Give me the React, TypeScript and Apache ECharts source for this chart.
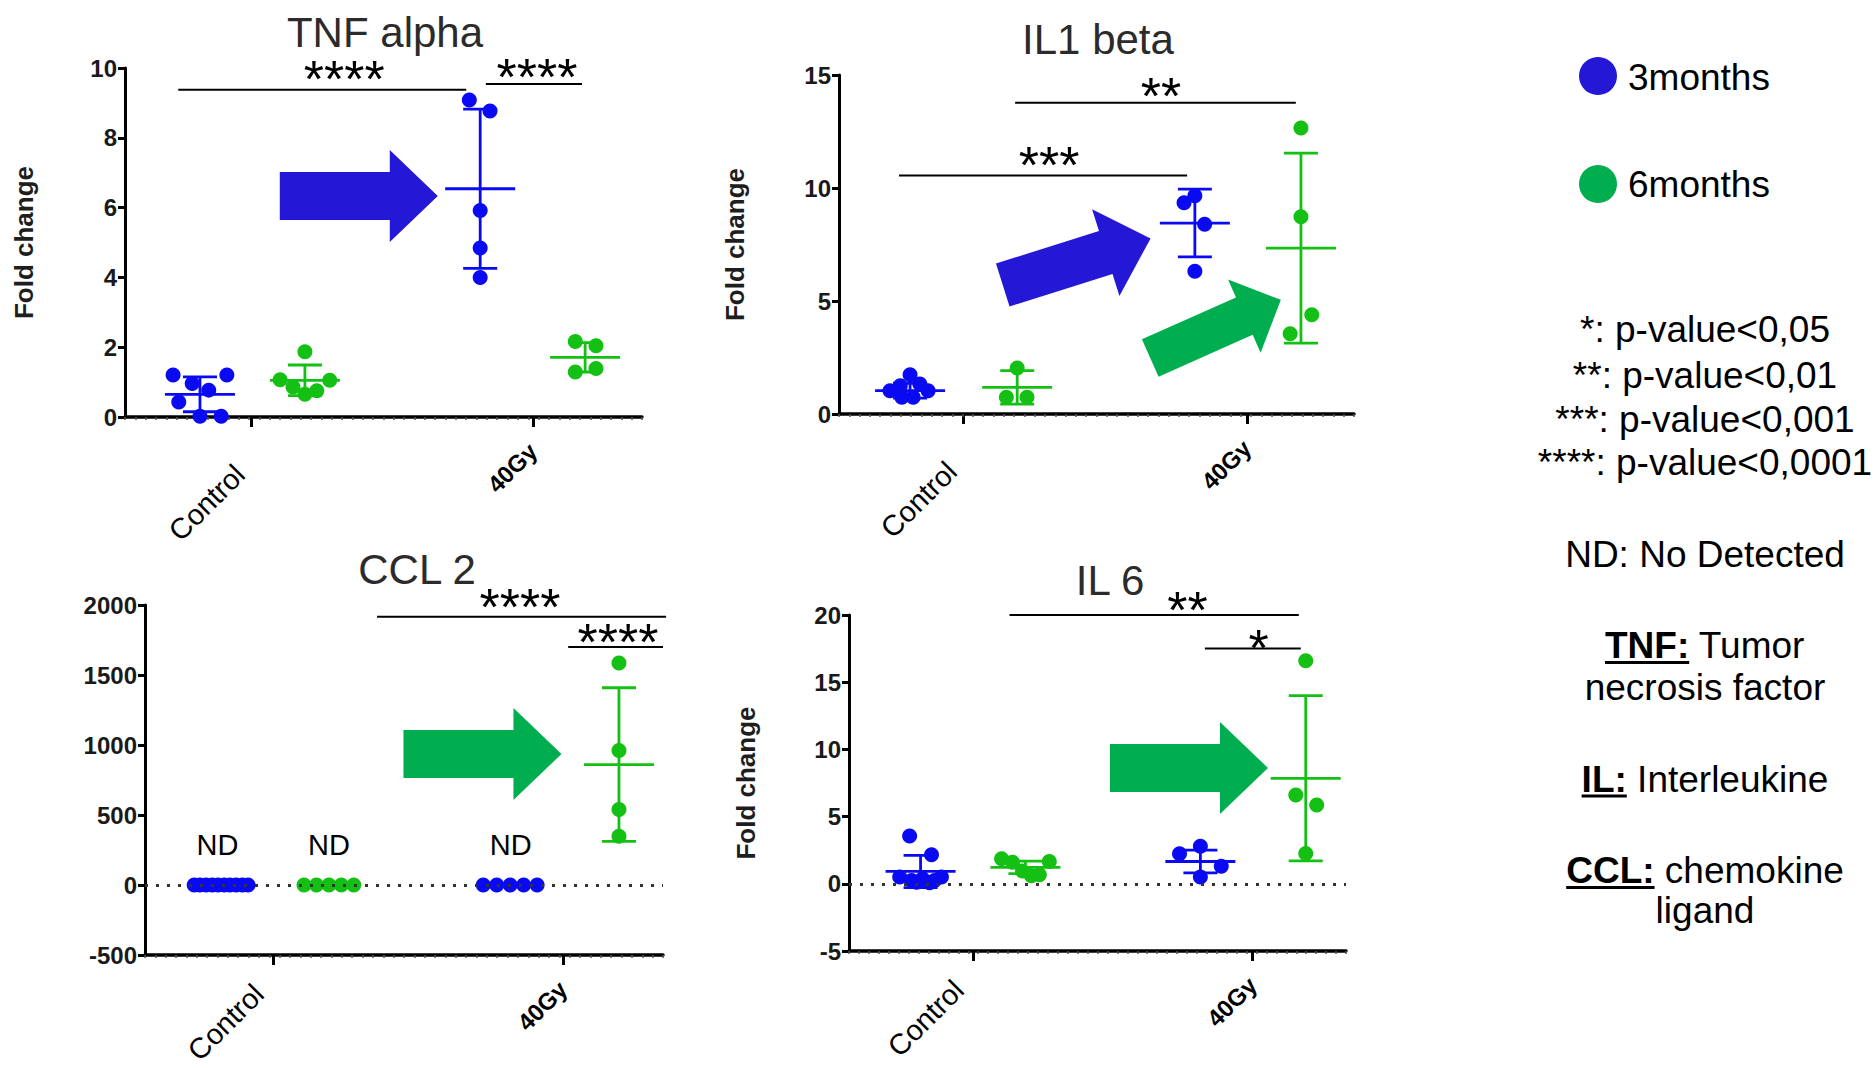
import React, { useEffect, useRef } from 'react';
import * as echarts from 'echarts';

const FONT = '"Liberation Sans", Arial, Helvetica, sans-serif';
const DOT_BLUE = '#0A0AF2';
const DOT_GREEN = '#14C014';
const ARROW_BLUE = '#2517D6';
const ARROW_GREEN = '#00AE50';

const xLabels = ['Control', '40Gy'];
const seriesNames = ['3months', '6months'];
const pNotes = ['*: p-value<0,05', '**: p-value<0,01', '***: p-value<0,001', '****: p-value<0,0001'];
const abbrevBold = ['', 'TNF:', '', 'IL:', 'CCL:', ''];
const abbrevText = ['ND: No Detected', ' Tumor', 'necrosis factor', ' Interleukine', ' chemokine', 'ligand'];

// group order: Control 3months, Control 6months, 40Gy 3months, 40Gy 6months
// ---------- TNF alpha
const tnfValues = [
  [1.2, 1.2, 0.96, 0.77, 0.43, 0.02, 0.02],
  [1.87, 1.07, 1.05, 0.86, 0.75, 0.65],
  [9.08, 8.77, 5.92, 4.84, 4.0],
  [2.16, 2.04, 1.29, 1.39],
];
const tnfJitter = [
  [-5.2, 5.2, -1.5, 1.7, -4.1, 0, 4.1],
  [0, -4.8, 4.8, -2.3, 2.3, 0],
  [-2.1, 1.9, 0, 0, 0],
  [-1.9, 2.1, -1.9, 2.1],
];
const tnfMean = [0.65, 1.05, 6.54, 1.71];
const tnfSD = [0.5, 0.44, 2.28, 0.42];
const tnfGroupX = [14.5, 34.8, 68.7, 89.0];
const tnfTickX = [24.4, 78.9];
const tnfSigLines = [[10.3, 66.0, 9.38], [69.8, 88.4, 9.54]];
const tnfSigText = [[42.4, 9.88], [79.7, 9.95]];
const tnfSigLabels = ['****', '****'];
const tnfArrows = [[60.5, 6.33, 0, 0]];

// ---------- IL1 beta
const il1Values = [
  [1.74, 1.25, 1.33, 1.03, 1.03, 0.74, 0.74],
  [2.04, 0.74, 0.74],
  [9.35, 9.66, 8.4, 6.32],
  [12.66, 8.73, 4.39, 3.55],
];
const il1Jitter = [
  [0, -1.9, 1.9, -3.9, 3.5, -1.6, 0.6],
  [0, -2.1, 1.9],
  [-2.1, 0, 1.9, 0],
  [0, 0, 2.1, -2.1],
];
const il1Mean = [1.03, 1.18, 8.45, 7.34];
const il1SD = [0.33, 0.74, 1.5, 4.2];
const il1GroupX = [13.8, 34.6, 69.1, 89.7];
const il1TickX = [24.1, 79.2];
const il1SigLines = [[11.65, 67.6, 10.55], [34.2, 88.7, 13.77]];
const il1SigText = [[40.8, 11.33], [62.5, 14.37]];
const il1SigLabels = ['***', '**'];
const il1Arrows = [[60.5, 7.77, -17.5, 0], [85.8, 5.05, -24, 1]];

// ---------- CCL 2
const ccl2Values = [
  [0, 0, 0, 0, 0, 0, 0, 0, 0, 0],
  [0, 0, 0, 0, 0],
  [0, 0, 0, 0, 0],
  [1585, 960, 540, 348],
];
const ccl2Jitter = [
  [-5.2, -4.1, -2.9, -1.7, -0.6, 0.6, 1.7, 2.9, 4.1, 5.2],
  [-4.8, -2.4, 0, 2.4, 4.8],
  [-5.2, -2.6, 0, 2.6, 5.2],
  [0, 0, 0, 0],
];
const ccl2Mean = [null, null, null, 860];
const ccl2SD = [null, null, null, 549];
const ccl2GroupX = [14.7, 35.5, 70.5, 91.5];
const ccl2TickX = [24.7, 80.7];
const ccl2SigLines = [[44.8, 100.6, 1916], [81.7, 100, 1700]];
const ccl2SigText = [[72.4, 2037], [91.3, 1784]];
const ccl2SigLabels = ['****', '****'];
const ccl2Arrows = [[80.4, 936, 0, 1]];
const ccl2NotDetected = [[14.0, 284], [35.5, 284], [70.6, 284]];

// ---------- IL 6
const il6Values = [
  [3.55, 2.16, 0.5, 0.25, 0.37, 0.25, 0.5, 0.12, 0.07],
  [1.86, 1.61, 0.95, 0.6, 0.67, 1.66],
  [2.8, 2.23, 1.31, 0.5],
  [16.6, 6.6, 5.86, 2.25],
];
const il6Jitter = [
  [-2.2, 2.2, -4.2, -1.8, 0.4, 2.8, 4.2, -0.8, 1.8],
  [-4.8, -2.6, -0.6, 1.2, 2.8, 4.8],
  [0, -4.2, 4.2, 0],
  [0, -2, 2.2, 0],
];
const il6Mean = [0.92, 1.22, 1.66, 7.85];
const il6SD = [1.2, 0.46, 0.85, 6.15];
const il6GroupX = [14.4, 35.5, 70.7, 91.9];
const il6TickX = [24.9, 81.2];
const il6SigLines = [[32.3, 90.5, 20.0], [71.6, 90.9, 17.5]];
const il6SigText = [[68.1, 20.9], [82.4, 18.1]];
const il6SigLabels = ['**', '*'];
const il6Arrows = [[84.3, 8.62, 0, 1]];

const titles = ['TNF alpha', 'IL1 beta', 'CCL 2', 'IL 6'];
const yRanges = [[0, 10, 2], [0, 15, 5], [-500, 2000, 500], [-5, 20, 5]];
const yNames = ['Fold change', 'Fold change', '', 'Fold change'];

const panels = [
  { values: tnfValues, jitter: tnfJitter, mean: tnfMean, sd: tnfSD, groupX: tnfGroupX, tickX: tnfTickX, sigLines: tnfSigLines, sigText: tnfSigText, sigLabels: tnfSigLabels, arrows: tnfArrows, nd: [] as number[][], zeroLine: false },
  { values: il1Values, jitter: il1Jitter, mean: il1Mean, sd: il1SD, groupX: il1GroupX, tickX: il1TickX, sigLines: il1SigLines, sigText: il1SigText, sigLabels: il1SigLabels, arrows: il1Arrows, nd: [] as number[][], zeroLine: false },
  { values: ccl2Values, jitter: ccl2Jitter, mean: ccl2Mean, sd: ccl2SD, groupX: ccl2GroupX, tickX: ccl2TickX, sigLines: ccl2SigLines, sigText: ccl2SigText, sigLabels: ccl2SigLabels, arrows: ccl2Arrows, nd: ccl2NotDetected, zeroLine: true },
  { values: il6Values, jitter: il6Jitter, mean: il6Mean, sd: il6SD, groupX: il6GroupX, tickX: il6TickX, sigLines: il6SigLines, sigText: il6SigText, sigLabels: il6SigLabels, arrows: il6Arrows, nd: [] as number[][], zeroLine: true },
];

const BIG = { L: 158, b: 24, h: 46, hl: 48 };
const layout = [
  { left: 125, top: 68, width: 517, height: 349, title: [385, 32], nameGap: 88, ctlPad: [16, 24, 0, 0], arrowSizes: [BIG] },
  { left: 839, top: 75, width: 515, height: 339, title: [1098, 39], nameGap: 91, ctlPad: [16, 24, 0, 0], arrowSizes: [{ L: 155, b: 22.5, h: 45.5, hl: 47 }, { L: 143, b: 20.5, h: 40, hl: 40 }] },
  { left: 145, top: 605, width: 518, height: 350, title: [417, 569], nameGap: 90, ctlPad: [0, 13, 14, 0], arrowSizes: [BIG] },
  { left: 849, top: 615, width: 497, height: 336, title: [1110, 580], nameGap: 90, ctlPad: [0, 13, 14, 0], arrowSizes: [BIG] },
];

function measure(text: string, font: string) {
  const ctx = document.createElement('canvas').getContext('2d');
  if (!ctx) return text.length * 18;
  ctx.font = font;
  return ctx.measureText(text).width;
}

function buildOption() {
  const grid: any[] = [];
  const xAxis: any[] = [];
  const yAxis: any[] = [];
  const series: any[] = [];
  const graphic: any[] = [];

  panels.forEach((p, i) => {
    const L = layout[i];
    grid.push({ left: L.left, top: L.top, width: L.width, height: L.height, containLabel: false, outerBoundsMode: 'none' });
    const tickX = p.tickX;
    xAxis.push({
      gridIndex: i, type: 'value', min: 0, max: 100, position: 'bottom',
      axisLine: { show: true, onZero: false, lineStyle: { color: '#000', width: 3.5 } },
      axisTick: { show: true, customValues: tickX, length: 10, lineStyle: { color: '#000', width: 3 } },
      axisLabel: {
        show: true,
        customValues: tickX,
        rotate: 45,
        margin: 30,
        formatter: (v: number) => (Math.abs(v - tickX[0]) < 0.01 ? '{c|' + xLabels[0] + '}' : '{g|' + xLabels[1] + '}'),
        rich: {
          c: { fontSize: 29, fontFamily: FONT, color: '#000', padding: L.ctlPad },
          g: { fontSize: 24, fontFamily: FONT, fontWeight: 'bold', color: '#000' },
        },
      },
      splitLine: { show: false },
    });
    xAxis.push({
      gridIndex: i, type: 'value', min: 0, max: 100, interval: 2, position: 'bottom',
      axisLine: { show: false, onZero: false },
      axisTick: { show: true, length: 3, lineStyle: { color: '#555', width: 1.5 } },
      axisLabel: { show: false },
      splitLine: { show: false },
    });
    const [ymin, ymax, yint] = yRanges[i];
    yAxis.push({
      gridIndex: i, type: 'value', min: ymin, max: ymax, interval: yint,
      name: yNames[i], nameLocation: 'middle', nameGap: L.nameGap,
      nameTextStyle: { fontSize: 26, fontWeight: 'bold', fontFamily: FONT, color: '#1e1e1e' },
      axisLine: { show: true, lineStyle: { color: '#000', width: 3 } },
      axisTick: { show: true, length: 7, lineStyle: { color: '#000', width: 3 } },
      axisLabel: { fontSize: 24, fontWeight: 'bold', fontFamily: FONT, color: '#1a1a1a', margin: 8, formatter: (v: number) => String(v) },
      splitLine: { show: false },
    });

    const xi = 2 * i;
    const pts = (g: number) => p.values[g].map((v, k) => [p.groupX[g] + p.jitter[g][k], v]);
    const zeroMark = p.zeroLine
      ? {
          silent: true, symbol: ['none', 'none'], label: { show: false },
          lineStyle: { type: [3, 8], width: 3, color: '#333' },
          data: [{ yAxis: 0 }],
        }
      : undefined;
    series.push({
      type: 'scatter', name: seriesNames[0], xAxisIndex: xi, yAxisIndex: i,
      data: [...pts(0), ...pts(2)], symbolSize: 15, itemStyle: { color: DOT_BLUE, opacity: 1 }, z: 3,
      markLine: zeroMark,
    });
    series.push({
      type: 'scatter', name: seriesNames[1], xAxisIndex: xi, yAxisIndex: i,
      data: [...pts(1), ...pts(3)], symbolSize: 15, itemStyle: { color: DOT_GREEN, opacity: 1 }, z: 3,
    });

    // error bars (mean +/- SD)
    const ebData: number[][] = [];
    p.mean.forEach((m, g) => {
      if (m !== null && p.sd[g] !== null) ebData.push([p.groupX[g], m as number, p.sd[g] as number, g]);
    });
    series.push({
      type: 'custom', xAxisIndex: xi, yAxisIndex: i, z: 4, silent: true,
      data: ebData,
      renderItem: (params: any, api: any) => {
        const x = api.value(0), m = api.value(1), s = api.value(2), g = api.value(3);
        const c = api.coord([x, m]);
        const t = api.coord([x, m + s]);
        const b = api.coord([x, m - s]);
        const style = { stroke: g % 2 === 0 ? DOT_BLUE : DOT_GREEN, lineWidth: 2.8 };
        return {
          type: 'group',
          children: [
            { type: 'line', shape: { x1: c[0] - 35, y1: c[1], x2: c[0] + 35, y2: c[1] }, style },
            { type: 'line', shape: { x1: c[0], y1: t[1], x2: c[0], y2: b[1] }, style },
            { type: 'line', shape: { x1: c[0] - 17, y1: t[1], x2: c[0] + 17, y2: t[1] }, style },
            { type: 'line', shape: { x1: c[0] - 17, y1: b[1], x2: c[0] + 17, y2: b[1] }, style },
          ],
        };
      },
    });

    // significance bars
    series.push({
      type: 'custom', xAxisIndex: xi, yAxisIndex: i, z: 5, silent: true,
      data: p.sigLines.map((l, j) => [l[0], l[1], l[2], p.sigText[j][0], p.sigText[j][1]]),
      renderItem: (params: any, api: any) => {
        const a = api.coord([api.value(0), api.value(2)]);
        const b = api.coord([api.value(1), api.value(2)]);
        const t = api.coord([api.value(3), api.value(4)]);
        return {
          type: 'group',
          children: [
            { type: 'line', shape: { x1: a[0], y1: a[1], x2: b[0], y2: b[1] }, style: { stroke: '#000', lineWidth: 2 } },
            {
              type: 'text', x: t[0], y: t[1] + 7,
              style: { text: p.sigLabels[params.dataIndex], fontSize: 52, fontFamily: FONT, fill: '#000', align: 'center', verticalAlign: 'middle', textAlign: 'center', textVerticalAlign: 'middle' },
            },
          ],
        };
      },
    });

    // block arrows
    series.push({
      type: 'custom', xAxisIndex: xi, yAxisIndex: i, z: 2, silent: true,
      data: p.arrows,
      renderItem: (params: any, api: any) => {
        const tip = api.coord([api.value(0), api.value(1)]);
        const ang = (api.value(2) * Math.PI) / 180;
        const s = L.arrowSizes[params.dataIndex];
        const shape = [[-s.L, -s.b], [-s.hl, -s.b], [-s.hl, -s.h], [0, 0], [-s.hl, s.h], [-s.hl, s.b], [-s.L, s.b]];
        const cs = Math.cos(ang), sn = Math.sin(ang);
        const points = shape.map(([px, py]) => [tip[0] + px * cs - py * sn, tip[1] + px * sn + py * cs]);
        return { type: 'polygon', shape: { points }, style: { fill: api.value(3) === 0 ? ARROW_BLUE : ARROW_GREEN } };
      },
    });

    if (p.nd.length) {
      series.push({
        type: 'custom', xAxisIndex: xi, yAxisIndex: i, z: 5, silent: true,
        data: p.nd,
        renderItem: (params: any, api: any) => {
          const c = api.coord([api.value(0), api.value(1)]);
          return {
            type: 'text', x: c[0], y: c[1],
            style: { text: 'ND', fontSize: 29, fontFamily: FONT, fill: '#000', align: 'center', verticalAlign: 'middle', textAlign: 'center', textVerticalAlign: 'middle' },
          };
        },
      });
    }

    graphic.push({
      type: 'text', x: L.title[0], y: L.title[1],
      style: { text: titles[i], font: `42px ${FONT}`, fill: '#2b2b2b', textAlign: 'center', textVerticalAlign: 'middle', align: 'center', verticalAlign: 'middle' },
    });
  });

  // legend markers
  const legendY = [76, 184];
  const legendTextY = [77, 184];
  const legendColors = [ARROW_BLUE, ARROW_GREEN];
  seriesNames.forEach((n, k) => {
    graphic.push({ type: 'circle', shape: { cx: 1598, cy: legendY[k], r: 19 }, style: { fill: legendColors[k] } });
    graphic.push({
      type: 'text', x: 1628, y: legendTextY[k],
      style: { text: n, font: `37px ${FONT}`, fill: '#000', textAlign: 'left', textVerticalAlign: 'middle', align: 'left', verticalAlign: 'middle' },
    });
  });

  const pY = [329, 375.5, 419, 462];
  pNotes.forEach((t, k) => {
    graphic.push({
      type: 'text', x: 1705, y: pY[k],
      style: { text: t, font: `37px ${FONT}`, fill: '#000', textAlign: 'center', textVerticalAlign: 'middle', align: 'center', verticalAlign: 'middle' },
    });
  });

  const aY = [554, 645.5, 687, 779, 870.5, 910.5];
  const regFont = `37px ${FONT}`;
  const boldFont = `bold 37px ${FONT}`;
  abbrevText.forEach((t, k) => {
    const b = abbrevBold[k];
    const wb = b ? measure(b, boldFont) : 0;
    const wt = measure(t, regFont);
    const start = 1705 - (wb + wt) / 2;
    if (b) {
      graphic.push({
        type: 'text', x: start, y: aY[k],
        style: { text: b, font: boldFont, fill: '#000', textAlign: 'left', textVerticalAlign: 'middle', align: 'left', verticalAlign: 'middle' },
      });
      graphic.push({ type: 'line', shape: { x1: start, y1: aY[k] + 17, x2: start + wb, y2: aY[k] + 17 }, style: { stroke: '#000', lineWidth: 3 } });
    }
    graphic.push({
      type: 'text', x: start + wb, y: aY[k],
      style: { text: t, font: regFont, fill: '#000', textAlign: 'left', textVerticalAlign: 'middle', align: 'left', verticalAlign: 'middle' },
    });
  });

  return {
    animation: false,
    backgroundColor: '#fff',
    grid, xAxis, yAxis, series, graphic,
  };
}

export default function App() {
  const ref = useRef<HTMLDivElement>(null);
  useEffect(() => {
    document.body.style.margin = '0';
    const chart = echarts.init(ref.current as HTMLDivElement, undefined, { renderer: 'svg' });
    chart.setOption(buildOption() as any);
    return () => chart.dispose();
  }, []);
  return <div ref={ref} style={{ width: 1876, height: 1068 }} />;
}
